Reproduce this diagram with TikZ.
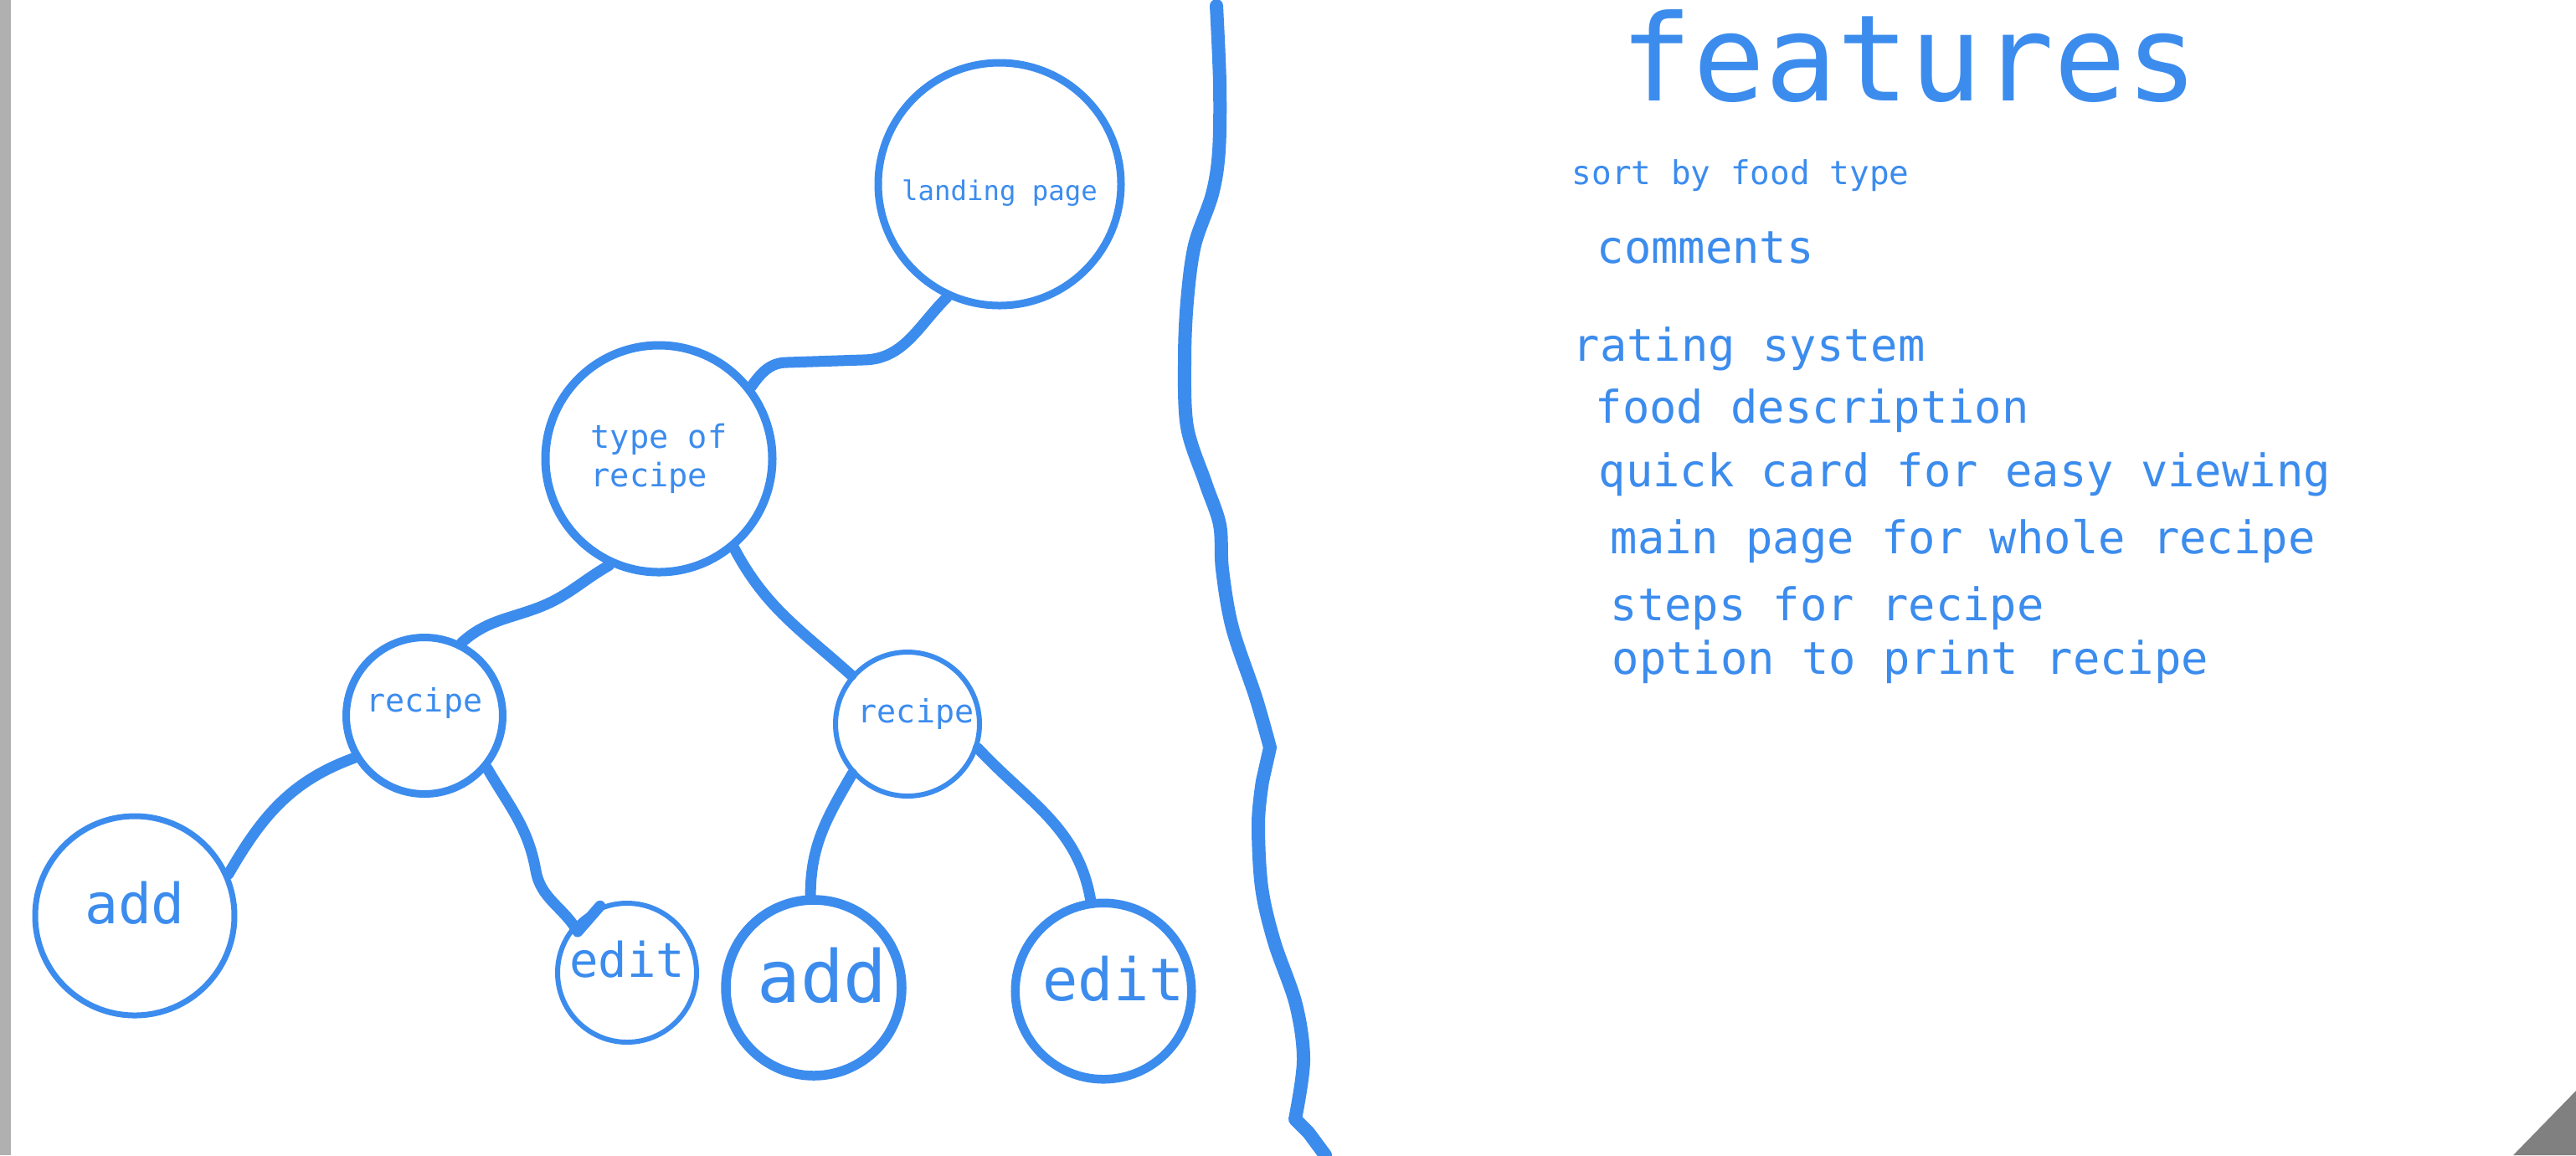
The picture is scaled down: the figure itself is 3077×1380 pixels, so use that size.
\documentclass[tikz,border=0pt]{standalone}
\usepackage{fontspec}
\usepackage{xcolor}
\newfontfamily\sketchmono{DejaVu Sans Mono}
\definecolor{inkblue}{RGB}{60,140,238}
\newcommand{\sk}[2]{\sketchmono\fontsize{#1pt}{#2pt}\selectfont}

\begin{document}
\begin{tikzpicture}[x=0.1mm,y=0.1mm,
        bubble/.style={circle,draw=inkblue,text=inkblue,inner sep=0pt},
        link/.style={draw=inkblue,line width=1.3mm,line cap=round,line join=round},
        item/.style={anchor=base west,inner sep=0pt,text=inkblue,font=\sk{15.3}{18}}]
            \useasboundingbox (0,0) rectangle (3077,-1380);
            \fill[white] (0,0) rectangle (3077,-1380);
            \fill[black!31] (0,0) rectangle (13,-1380);
            \fill[black!50] (3002,-1380) -- (3077,-1303) -- (3077,-1380) -- cycle;

            % tree of pages
            \node[bubble,line width=0.9mm,minimum size=29mm,text height=13pt,font=\sk{9.2}{11}] (landing) at (1194,-220) {landing page};
            \node[bubble,line width=1mm,minimum size=27.1mm,align=left,font=\sk{11}{13.2}] (typeof) at (787,-548) {type of\\recipe};
            \node[bubble,line width=0.9mm,minimum size=18.7mm,text depth=11pt,font=\sk{10.9}{13}] (recipeL) at (507,-855) {recipe};
            \node[bubble,line width=0.6mm,minimum size=17.2mm,text depth=9pt,font=\sk{10.9}{13}] (recipeR) at (1084,-865) {\hspace{2mm}recipe};
            \node[bubble,line width=0.7mm,minimum size=23.8mm,text depth=9pt,font=\sk{18.9}{22}] (addL) at (161,-1094) {add};
            \node[bubble,line width=0.6mm,minimum size=16.6mm,text depth=9pt,font=\sk{16.3}{19}] (editL) at (749,-1162) {edit};
            \node[bubble,line width=1.15mm,minimum size=21mm,text depth=8.6pt,font=\sk{24.5}{28}] (addR) at (972,-1180) {\hspace{2mm}add};
            \node[bubble,line width=1.05mm,minimum size=20.5mm,text depth=8.6pt,font=\sk{20}{24}] (editR) at (1318,-1184) {\hspace{2.4mm}edit};

            \draw[link] (landing.245) to[out=225,in=0] (1030,-430) -- (940,-433) to[out=180,in=55] (typeof.38);
            \draw[link] (typeof.245) to[out=210,in=20] (640,-727) to[out=200,in=42] (recipeL.63);
            \draw[link] (typeof.310) to[out=298,in=138] (recipeR.139);
            \draw[link] (recipeL.211) to[out=200,in=60] (addL.24);
            \draw[link] (recipeL.320) to[out=300,in=100] (640,-1040) to[out=280,in=120] (690,-1113) -- (editL.112);
            \draw[link] (recipeR.222) to[out=240,in=90] (addR.92);
            \draw[link] (recipeR.341) to[out=313,in=100] (editR.98);

            % dividing stroke
            \draw[inkblue,line width=1.6mm,line cap=round,line join=round]
                plot[smooth,tension=0.55] coordinates {(1453,-7) (1457,-100) (1456,-180) (1448,-232) (1427,-293)
                    (1418,-360) (1415,-430) (1418,-510) (1440,-577) (1457,-627) (1460,-680) (1472,-750)
                    (1500,-833) (1517,-893)}
                -- plot[smooth,tension=0.55] coordinates {(1508,-933) (1503,-983) (1507,-1060) (1522,-1125)
                    (1548,-1200) (1557,-1267) (1547,-1337)}
                -- (1563,-1353) -- (1583,-1380);

            % feature list
            \node[item,font=\sk{40.8}{46}] (features) at (1935,-120) {features};
            \node[item,font=\sk{11.2}{13}] (sortby) at (1877,-220) {sort by food type};
            \node[item] (comments) at (1907,-314) {comments};
            \node[item] (rating) at (1878,-431) {rating system};
            \node[item] (fooddesc) at (1905,-505) {food description};
            \node[item] (quickcard) at (1909,-581) {quick card for easy viewing};
            \node[item] (mainpage) at (1923,-661) {main page for whole recipe};
            \node[item] (steps) at (1923,-741) {steps for recipe};
            \node[item] (printopt) at (1925,-805) {option to print recipe};
\end{tikzpicture}
\end{document}
